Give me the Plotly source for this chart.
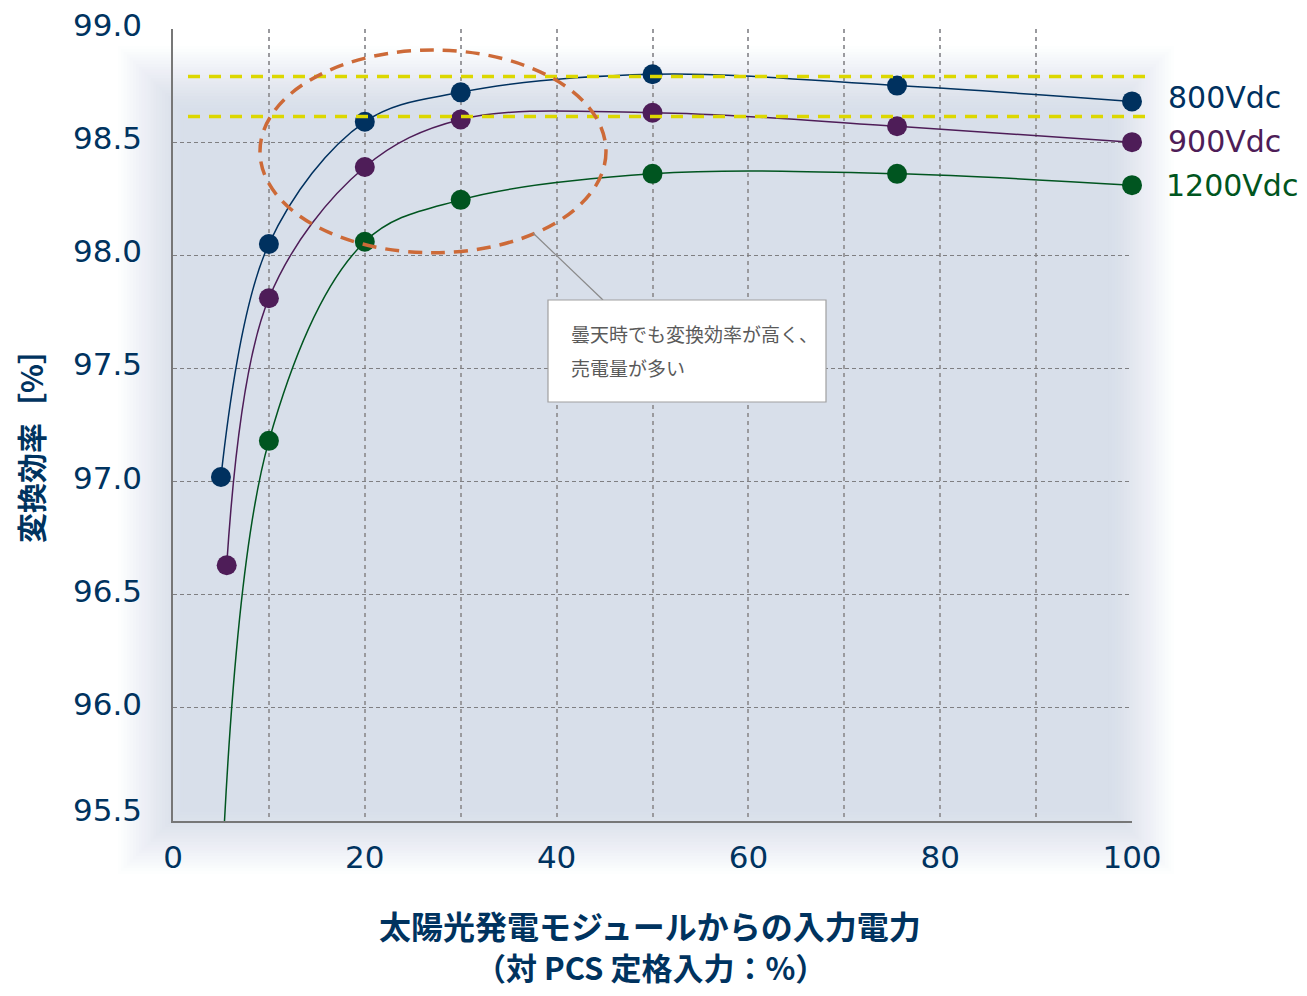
import plotly.graph_objects as go

# ---------------- data ----------------
x_800 = [5, 10, 20, 30, 50, 75.5, 100]
y_800 = [97.02, 98.05, 98.59, 98.72, 98.80, 98.75, 98.68]

x_900 = [5.6, 10, 20, 30, 50, 75.5, 100]
y_900 = [96.63, 97.81, 98.39, 98.60, 98.63, 98.57, 98.50]

# first point lies below the axis range (curve continues off the chart)
x_1200 = [5, 10, 20, 30, 50, 75.5, 100]
y_1200 = [95.17, 97.18, 98.06, 98.245, 98.36, 98.36, 98.31]
marker_visible_1200 = [False, True, True, True, True, True, True]

series_names = ["800Vdc", "900Vdc", "1200Vdc"]
series_colors = ["#00315f", "#4e1d58", "#005520"]

x_ticks = [0, 20, 40, 60, 80, 100]
x_minor_grid = [10, 20, 30, 40, 50, 60, 70, 80, 90]
y_ticks = [95.5, 96.0, 96.5, 97.0, 97.5, 98.0, 98.5, 99.0]
y_grid = [96.0, 96.5, 97.0, 97.5, 98.0, 98.5]

ref_levels = [98.79, 98.613]          # yellow dashed reference lines
ellipse_x = [9.07, 45.15]
ellipse_y = [98.011, 98.907]

note_text = ["曇天時でも変換効率が高く、", "売電量が多い"]
x_title = ["太陽光発電モジュールからの入力電力", "（対 PCS 定格入力：%）"]
y_title = "変換効率［%］"

NAVY = "#00335f"

# ---------------- layout geometry ----------------
# page is rendered with an 8px body margin, so the figure is offset by 8px
OFF = 8
W, H = 1307 - 2 * OFF, 996 - 2 * OFF
PL, PR, PT, PB = 173, 1132, 29, 821          # plot area in page pixels
ML, MT = PL - OFF, PT - OFF
MR, MB = W - (PR - OFF), H - (PB - OFF)
PW, PH = PR - PL, PB - PT


def pxx(px):
    return (px - PL) / PW


def pyy(py):
    return (PB - py) / PH


fig = go.Figure()

ys = [y_800, y_900, y_1200]
xs = [x_800, x_900, x_1200]
for i, name in enumerate(series_names):
    sizes = [20] * len(xs[i])
    if name == "1200Vdc":
        sizes = [20 if v else 0 for v in marker_visible_1200]
    fig.add_trace(go.Scatter(
        x=xs[i], y=ys[i], mode="lines+markers", name=name,
        line=dict(color=series_colors[i], width=1.5, shape="spline", smoothing=1.0),
        marker=dict(color=series_colors[i], size=sizes, opacity=1, line=dict(width=0)),
        cliponaxis=False, showlegend=False, hoverinfo="skip",
    ))

shapes = []
# soft gradient background (nested translucent rectangles, linear ramp)
core_l, core_r, core_t, core_b = 152, 1140, 80, 840
blur = 34
N = 24
for k in range(N):
    d = -blur + 2 * blur * k / (N - 1)
    a = 1.0 / (N - k)
    shapes.append(dict(
        type="rect", xref="paper", yref="paper", layer="below",
        x0=pxx(core_l + d), x1=pxx(core_r - d),
        y0=pyy(core_b - d), y1=pyy(core_t + d),
        fillcolor=f"rgba(216,223,234,{a:.4f})", line=dict(width=0),
    ))

# yellow dashed reference lines
for lv in ref_levels:
    yp = (lv - 95.5) / 3.5
    shapes.append(dict(
        type="line", xref="paper", yref="paper", layer="above",
        x0=pxx(188), x1=pxx(1150), y0=yp, y1=yp,
        line=dict(color="#dcd700", width=3.5, dash="12px,9px"),
    ))

# orange dashed ellipse
shapes.append(dict(
    type="circle", xref="paper", yref="paper", layer="above",
    x0=ellipse_x[0] / 100, x1=ellipse_x[1] / 100,
    y0=(ellipse_y[0] - 95.5) / 3.5, y1=(ellipse_y[1] - 95.5) / 3.5,
    line=dict(color="#cd6a38", width=3.5, dash="14px,9px"),
))

# connector line to note
shapes.append(dict(
    type="line", xref="paper", yref="paper", layer="above",
    x0=pxx(533), y0=pyy(233), x1=pxx(603), y1=pyy(300),
    line=dict(color="#8a8a8a", width=1.2),
))
# note box
shapes.append(dict(
    type="rect", xref="paper", yref="paper", layer="above",
    x0=pxx(548), x1=pxx(826), y0=pyy(402), y1=pyy(300),
    fillcolor="white", line=dict(color="#a0a0a0", width=1.2),
))

annotations = []
for t, py in zip(note_text, [333, 367]):
    annotations.append(dict(
        text=t, xref="paper", yref="paper", x=pxx(569), y=pyy(py),
        xanchor="left", yanchor="middle", showarrow=False,
        font=dict(family="Noto Sans CJK JP", size=19, color="#5a5a5a"),
    ))

# series labels at right
label_pos = [(1166, 97), (1166, 141), (1164, 185)]
for name, col, (px, py) in zip(series_names, series_colors, label_pos):
    annotations.append(dict(
        text=name, xref="paper", yref="paper", x=pxx(px), y=pyy(py),
        xanchor="left", yanchor="middle", showarrow=False,
        font=dict(family="DejaVu Sans", size=30, color=col),
    ))

# y tick labels (placed on the y scale, nudged upward like the original)
tick_font = dict(family="DejaVu Sans", size=31, color=NAVY)
for v in y_ticks:
    annotations.append(dict(
        text=f"{v:.1f}", xref="paper", yref="y", x=pxx(144), y=v,
        xanchor="right", yanchor="middle", showarrow=False,
        yshift=11 if v == y_ticks[0] else 4, font=tick_font,
    ))

# x axis title (two lines)
for t, py, fs in zip(x_title, [925, 966], [32, 31]):
    annotations.append(dict(
        text=t, xref="paper", yref="paper", x=pxx(650), y=pyy(py),
        xanchor="center", yanchor="middle", showarrow=False,
        font=dict(family="Noto Sans CJK JP", size=fs, color=NAVY, weight="bold"),
    ))

# y axis title
annotations.append(dict(
    text=y_title, xref="paper", yref="paper", x=pxx(30), y=pyy(439),
    xanchor="center", yanchor="middle", showarrow=False, textangle=-90,
    font=dict(family="Noto Sans CJK JP", size=30, color=NAVY, weight="bold"),
))

fig.update_layout(
    width=W, height=H, autosize=False,
    margin=dict(l=ML, r=MR, t=MT, b=MB, pad=0, autoexpand=False),
    paper_bgcolor="white", plot_bgcolor="rgba(0,0,0,0)",
    shapes=shapes, annotations=annotations,
    xaxis=dict(
        range=[0, 100], tickmode="array", tickvals=x_ticks,
        ticktext=[str(v) for v in x_ticks], tickfont=tick_font,
        showgrid=False, zeroline=False, ticks="", ticklabelstandoff=8,
        automargin=False,
        showline=True, linecolor="#777777", linewidth=2,
        minor=dict(tickmode="array", tickvals=x_minor_grid, showgrid=True,
                   gridcolor="#9a9a9e", gridwidth=1.6, griddash="4px,4px", ticks=""),
    ),
    yaxis=dict(
        range=[95.5, 99.0], tickmode="array", tickvals=y_ticks,
        showticklabels=False,
        showgrid=False, zeroline=False, ticks="", automargin=False,
        showline=True, linecolor="#777777", linewidth=2,
        minor=dict(tickmode="array", tickvals=y_grid, showgrid=True,
                   gridcolor="#7f7f82", gridwidth=1.2, griddash="4px,3px", ticks=""),
    ),
)

fig.write_html("out.html")
